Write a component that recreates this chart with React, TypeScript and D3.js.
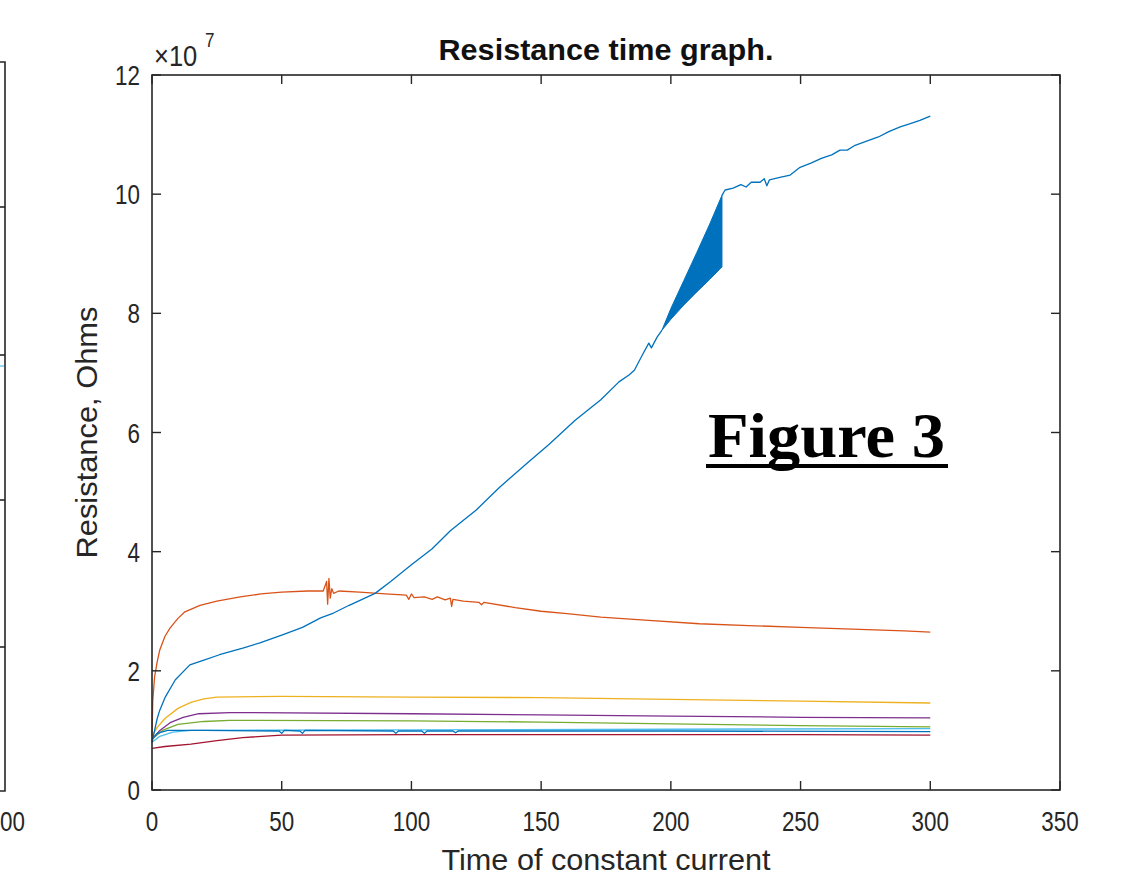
import * as d3 from 'd3';

const W = 1126;
const H = 882;
const box = { left: 152, right: 1060, top: 75, bottom: 790 };

const xTicks = [0, 50, 100, 150, 200, 250, 300, 350];
const yTicks = [0, 2, 4, 6, 8, 10, 12];

// [time, resistance in 1e7 Ohms]
const blueMain = [
  [0, 0.8], [1, 1.0], [2, 1.2], [3, 1.34], [5, 1.55], [9, 1.85], [14.6, 2.1], [20, 2.18],
  [26, 2.27], [35, 2.38], [41.6, 2.47], [50, 2.6], [58, 2.73], [65, 2.89], [70, 2.97],
  [76, 3.1], [86, 3.3], [92, 3.5], [100, 3.78], [108, 4.05], [115, 4.35], [125, 4.7],
  [134, 5.08], [145, 5.5], [153, 5.8], [163, 6.2], [173, 6.55], [180, 6.85], [184, 6.97],
  [186, 7.05], [189, 7.3], [191.5, 7.5], [192.5, 7.42], [194.7, 7.6], [196.6, 7.72],
];
const bandT = [196.6, 200, 205, 210, 215, 219.7];
const bandHigh = [7.72, 8.08, 8.55, 9.02, 9.5, 9.98];
const bandLow = [7.72, 7.9, 8.14, 8.36, 8.57, 8.78];
const blueUpper = [
  [219.7, 9.98], [220.9, 10.07], [224, 10.1], [227, 10.16], [229, 10.12], [231, 10.2],
  [234.4, 10.2], [236, 10.26], [237, 10.14], [238, 10.24], [242, 10.28], [246, 10.32],
  [249.8, 10.45], [254, 10.52], [258, 10.6], [262, 10.66], [265.2, 10.74], [268, 10.74],
  [271, 10.82], [276.8, 10.91], [280, 10.96], [284, 11.05], [288.4, 11.13], [292, 11.18],
  [296, 11.24], [300, 11.31],
];
const orange = [
  [0, 0.9], [0.3, 1.5], [1, 1.9], [2, 2.15], [3, 2.35], [5, 2.58], [7, 2.72], [10, 2.88],
  [12.7, 2.99], [18.5, 3.1], [25, 3.17], [34, 3.24], [42, 3.29], [50, 3.32], [60, 3.34],
  [66, 3.34], [67.3, 3.5], [67.7, 3.12], [68.2, 3.55], [68.7, 3.22], [69.3, 3.38],
  [70, 3.3], [72, 3.34], [80, 3.32], [90, 3.29], [98, 3.27], [99, 3.2], [100, 3.29],
  [101, 3.23], [105, 3.24], [108, 3.2], [110, 3.24], [113, 3.19], [115, 3.22],
  [115.5, 3.08], [116, 3.2], [120, 3.17], [126, 3.15], [127, 3.11], [128, 3.15],
  [140, 3.06], [150, 3.0], [160, 2.96], [173, 2.9], [190, 2.85], [211, 2.79], [230, 2.76],
  [250, 2.73], [270, 2.7], [290, 2.67], [300, 2.65],
];
const yellow = [
  [0, 0.9], [2, 1.05], [5, 1.2], [10, 1.37], [15, 1.47], [20, 1.53], [25, 1.56],
  [50, 1.57], [100, 1.56], [150, 1.55], [200, 1.52], [250, 1.49], [300, 1.46],
];
const purple = [
  [0, 0.85], [3, 1.0], [7, 1.13], [12, 1.22], [18, 1.28], [30, 1.3], [100, 1.28],
  [150, 1.26], [200, 1.24], [250, 1.22], [300, 1.21],
];
const green = [
  [0, 0.85], [4, 1.0], [10, 1.1], [20, 1.15], [30, 1.17], [100, 1.16], [150, 1.14],
  [200, 1.11], [250, 1.08], [300, 1.06],
];
const cyan = [
  [0, 0.8], [3, 0.9], [8, 0.97], [15, 1.0], [100, 1.01], [200, 1.02], [300, 1.03],
];
const blueFlat = [
  [0, 0.85], [2, 0.95], [6, 1.0], [20, 1.0], [49, 0.99], [50, 0.95], [51, 1.0],
  [57, 0.99], [58, 0.95], [59, 1.0], [93, 0.99], [94, 0.95], [95, 0.99], [104, 0.99],
  [105, 0.95], [106, 0.99], [116, 0.99], [117, 0.96], [118, 0.99], [200, 0.99],
  [300, 0.98],
];
const darkRed = [
  [0, 0.7], [5, 0.73], [15, 0.77], [25, 0.83], [35, 0.88], [50, 0.92], [100, 0.93],
  [150, 0.93], [200, 0.93], [250, 0.93], [300, 0.92],
];

const series = [
  { data: darkRed, color: '#A2142F' },
  { data: cyan, color: '#4DBEEE' },
  { data: green, color: '#77AC30' },
  { data: purple, color: '#7E2F8E' },
  { data: yellow, color: '#EDB120' },
  { data: blueFlat, color: '#0072BD' },
  { data: orange, color: '#D95319' },
  { data: blueMain, color: '#0072BD' },
  { data: blueUpper, color: '#0072BD' },
];

const leftTicksY = [207, 355, 500, 647];

const font = '"Liberation Sans", Arial, Helvetica, sans-serif';
const ink = '#262626';
// the picture is squeezed sideways, so tick text is narrower than it is tall
const squeeze = 0.8;

export default function App() {
  const x = d3.scaleLinear().domain([0, 350]).range([box.left, box.right]);
  const y = d3.scaleLinear().domain([0, 12]).range([box.bottom, box.top]);

  const line = d3.line<number[]>().x((d) => x(d[0])).y((d) => y(d[1]));
  const band = d3.area<number>()
    .x((_, i) => x(bandT[i]))
    .y0((_, i) => y(bandLow[i]))
    .y1((_, i) => y(bandHigh[i]));

  const tick = 9;
  const sq = (tx: number, ty: number) => `translate(${tx},${ty}) scale(${squeeze},1)`;

  return (
    <svg width={W} height={H} style={{ position: 'absolute', left: 0, top: 0, background: '#fff' }}>
      <rect width={W} height={H} fill="#fff" />

      {/* edge of the neighbouring figure */}
      <g stroke={ink} strokeWidth={1.6} fill="none">
        <path d="M0,62 H5 V791 H0" />
        {leftTicksY.map((ty) => <line key={ty} x1={0} x2={5} y1={ty} y2={ty} />)}
      </g>
      <line x1={0} x2={4} y1={366} y2={366} stroke="#4DBEEE" strokeWidth={1.2} />
      <text transform={sq(0, 831)} fontFamily={font} fontSize={28} fill={ink}>00</text>

      {/* series */}
      <g fill="none" strokeWidth={1.3} strokeLinejoin="round">
        {series.map((s, i) => (
          <path key={i} d={line(s.data) ?? ''} stroke={s.color} />
        ))}
      </g>
      <path d={band(bandT) ?? ''} fill="#0072BD" stroke="#0072BD" strokeWidth={1} />

      {/* axes box */}
      <rect x={box.left} y={box.top} width={box.right - box.left} height={box.bottom - box.top}
        fill="none" stroke={ink} strokeWidth={1.6} />
      <g stroke={ink} strokeWidth={1.4}>
        {xTicks.map((t) => (
          <g key={t}>
            <line x1={x(t)} x2={x(t)} y1={box.bottom} y2={box.bottom - tick} />
            <line x1={x(t)} x2={x(t)} y1={box.top} y2={box.top + tick} />
          </g>
        ))}
        {yTicks.map((t) => (
          <g key={t}>
            <line x1={box.left} x2={box.left + tick} y1={y(t)} y2={y(t)} />
            <line x1={box.right} x2={box.right - tick} y1={y(t)} y2={y(t)} />
          </g>
        ))}
      </g>

      <g fontFamily={font} fontSize={28} fill={ink}>
        {xTicks.map((t) => (
          <text key={t} transform={sq(x(t), 831)} textAnchor="middle">{t}</text>
        ))}
        {yTicks.map((t) => (
          <text key={t} transform={sq(140, y(t) + 10)} textAnchor="end">{t}</text>
        ))}
        <text transform={`translate(154,66) scale(0.85,1)`} fontSize={30}>×10</text>
        <text transform={`translate(205,47) scale(0.85,1)`} fontSize={20}>7</text>
      </g>

      <text x={(box.left + box.right) / 2} y={60} textAnchor="middle" fontFamily={font}
        fontWeight="bold" fontSize={29} fill="#111" textLength={335} lengthAdjust="spacingAndGlyphs">
        Resistance time graph.
      </text>
      <text x={(box.left + box.right) / 2} y={870} textAnchor="middle" fontFamily={font}
        fontSize={29} fill={ink} textLength={329} lengthAdjust="spacingAndGlyphs">
        Time of constant current
      </text>
      <text transform={`translate(97, ${(box.top + box.bottom) / 2}) rotate(-90)`} textAnchor="middle"
        fontFamily={font} fontSize={29} fill={ink} textLength={252} lengthAdjust="spacingAndGlyphs">
        Resistance, Ohms
      </text>

      <text x={708} y={457} fontFamily='"Liberation Serif", "DejaVu Serif", serif' fontWeight="bold"
        fontSize={64} fill="#000" textLength={237} lengthAdjust="spacingAndGlyphs">
        Figure 3
      </text>
      <line x1={706} x2={948} y1={466} y2={466} stroke="#000" strokeWidth={4} />
    </svg>
  );
}
